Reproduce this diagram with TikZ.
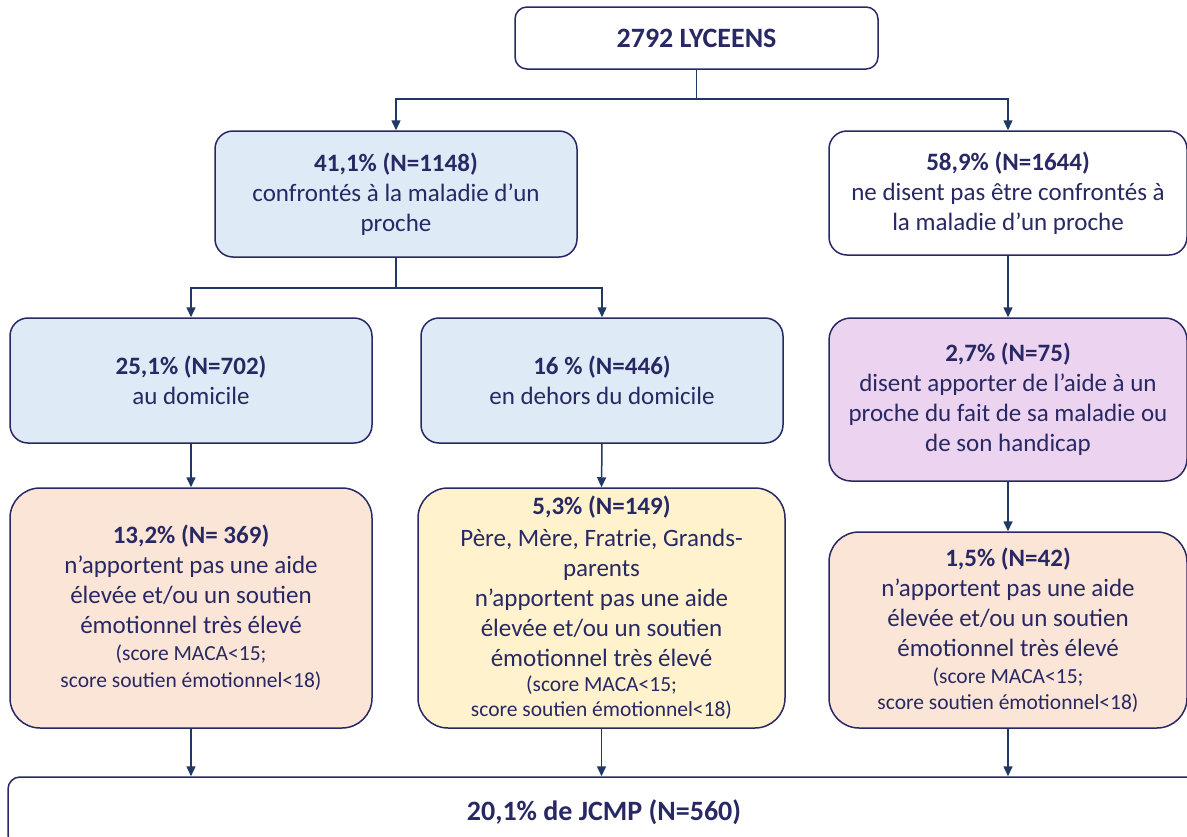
\documentclass[tikz,border=0pt]{standalone}
\usepackage{fontspec}
\setmainfont{Carlito}
\usetikzlibrary{arrows.meta}

\definecolor{navy}{RGB}{40,40,100}
\definecolor{linkblue}{RGB}{31,56,100}
\definecolor{bluefill}{RGB}{222,234,246}
\definecolor{mauvefill}{RGB}{236,212,240}
\definecolor{peachfill}{RGB}{251,229,214}
\definecolor{creamfill}{RGB}{255,242,204}

\newcommand{\scorefont}{\fontsize{21.5}{26}\selectfont}

\begin{document}
\begin{tikzpicture}[x=1pt,y=-1pt,
  box/.style={draw=navy, line width=1.5pt, rounded corners=18pt, align=center,
    text=navy, inner sep=0pt, font=\fontsize{25}{30}\selectfont},
  link/.style={draw=linkblue, line width=1.5pt},
  arr/.style={link, -{Triangle[length=10pt,width=9pt]}}]

  % Fix the frame of the picture
  \clip (0,0) rectangle (1187,836);

  % Top box
  \node[box, rounded corners=12pt, minimum width=363pt, minimum height=62pt,
    font=\fontsize{28}{34}\selectfont]
    (total) at (696.5,38) {\textbf{2792 LYCEENS}};

  % Second row
  \node[box, fill=bluefill, minimum width=362pt, minimum height=126pt]
    (proche) at (396,194) {\textbf{41,1\% (N=1148)}\\confrontés à la maladie d’un\\proche};
  \node[box, fill=white, minimum width=358pt, minimum height=124pt]
    (nonproche) at (1008,193) {\textbf{58,9\% (N=1644)}\\ne disent pas être confrontés à\\la maladie d’un proche};

  % Third row
  \node[box, fill=bluefill, minimum width=362pt, minimum height=125pt]
    (domicile) at (191,380.5) {\textbf{25,1\% (N=702)}\\au domicile};
  \node[box, fill=bluefill, minimum width=362pt, minimum height=125pt]
    (dehors) at (602,380.5) {\textbf{16 \% (N=446)}\\en dehors du domicile};
  \node[box, fill=mauvefill, rounded corners=22pt, minimum width=358pt, minimum height=163pt]
    (aide) at (1008,399.5) {\textbf{2,7\% (N=75)}\\disent apporter de l’aide à un\\proche du fait de sa maladie ou\\de son handicap};

  % Fourth row
  \node[box, fill=peachfill, rounded corners=30pt, minimum width=362pt, minimum height=240pt]
    (pasdomicile) at (191,608) {\textbf{13,2\% (N= 369)}\\n’apportent pas une aide\\élevée et/ou un soutien\\émotionnel très élevé\\[-3pt]
    \scorefont (score MACA<15;\\[-3pt] \scorefont score soutien émotionnel<18)};
  \node[box, fill=creamfill, rounded corners=30pt, minimum width=367pt, minimum height=240pt]
    (pasdehors) at (601.5,608) {\textbf{5,3\% (N=149)}\\[2pt]Père, Mère, Fratrie, Grands-\\parents\\n’apportent pas une aide\\élevée et/ou un soutien\\émotionnel très élevé\\[-5pt]
    \scorefont (score MACA<15;\\[-5pt] \scorefont score soutien émotionnel<18)};
  \node[box, fill=peachfill, rounded corners=30pt, minimum width=358pt, minimum height=196pt]
    (pasaide) at (1008,630) {\textbf{1,5\% (N=42)}\\n’apportent pas une aide\\élevée et/ou un soutien\\émotionnel très élevé\\[-3pt]
    \scorefont (score MACA<15;\\[-4pt] \scorefont score soutien émotionnel<18)};

  % Bottom box, cut by the frame
  \node[box, rounded corners=12pt, minimum width=1192pt, minimum height=70pt,
    font=\fontsize{28}{34}\selectfont]
    (jcmp) at (604,812) {\textbf{20,1\% de JCMP (N=560)}};

  % Split points of the connectors
  \coordinate (splittop) at (696.5,99);
  \coordinate (splitproche) at (396,288);

  % Connectors from the top box
  \draw[link] (total.south) -- (splittop);
  \draw[arr] (splittop) -| (proche.north);
  \draw[arr] (splittop) -| (nonproche.north);

  % Connectors from the 41,1% box
  \draw[link] (proche.south) -- (splitproche);
  \draw[arr] (splitproche) -| (domicile.north);
  \draw[arr] (splitproche) -| (dehors.north);

  % Straight connectors
  \draw[arr] (nonproche.south) -- (aide.north);
  \draw[arr] (domicile.south) -- (pasdomicile.north);
  \draw[arr] (dehors.south) -- (pasdehors.north);
  \draw[arr] (aide.south) -- (pasaide.north);

  % Connectors into the bottom box
  \draw[arr] (pasdomicile.south) -- (pasdomicile.south |- jcmp.north);
  \draw[arr] (pasdehors.south) -- (pasdehors.south |- jcmp.north);
  \draw[arr] (pasaide.south) -- (pasaide.south |- jcmp.north);

\end{tikzpicture}
\end{document}
